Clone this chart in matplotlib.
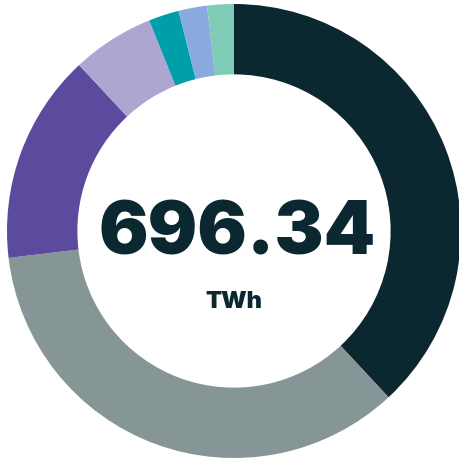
import matplotlib.pyplot as plt

# energy mix (TWh), clockwise from 12 o'clock
sources = ['dark', 'grey', 'purple', 'lilac', 'teal', 'blue', 'mint']
values = [265.2, 243.9, 104.0, 40.8, 15.1, 14.1, 13.24]
colors = ['#0b2830', '#869595', '#5b4a9e', '#aca6d0', '#009fa8', '#88aadf', '#80cbb5']
total_label = '696.34'
unit_label = 'TWh'

fig = plt.figure(figsize=(4.6, 4.6), dpi=100)
ax = fig.add_axes([0, 0, 1, 1])

R = 227.0
ax.pie(values, colors=colors, startangle=90, counterclock=False, radius=1.0,
       wedgeprops=dict(width=0.31, linewidth=0))

ax.set_xlim(-234 / R, (460 - 234) / R)
ax.set_ylim(-228 / R, 232 / R)
ax.set_aspect('equal')
ax.axis('off')

ax.text(0.015, -0.015, total_label, ha='center', va='center', fontsize=53,
        fontfamily='Inter', fontweight='black', color='#0b2830')
ax.text(0, -0.31, unit_label, ha='center', va='center', fontsize=17,
        fontfamily='Inter', fontweight='black', color='#0b2830')

plt.savefig('out.png', dpi=100)
